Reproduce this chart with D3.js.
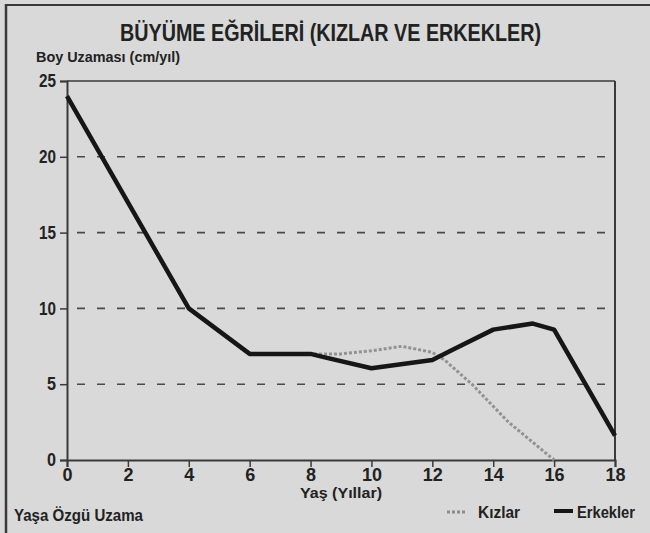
<!DOCTYPE html>
<html>
<head>
<meta charset="utf-8">
<script src="https://cdn.jsdelivr.net/npm/d3@7"></script>
<style>
  html, body { margin: 0; padding: 0; background: #d9d9d9; }
  svg { display: block; }
  text { font-family: "Liberation Sans", Arial, sans-serif; font-weight: bold; fill: #222; }
</style>
</head>
<body>
<svg id="chart" width="650" height="533"></svg>
<script>
const title = "BÜYÜME EĞRİLERİ (KIZLAR VE ERKEKLER)";
const yLabel = "Boy Uzaması (cm/yıl)";
const xLabel = "Yaş (Yıllar)";
const footLabel = "Yaşa Özgü Uzama";
const seriesNames = ["Kızlar", "Erkekler"];

const xTicks = [0, 2, 4, 6, 8, 10, 12, 14, 16, 18];
const yTicks = [0, 5, 10, 15, 20, 25];
const gridValues = [5, 10, 15, 20];

// Erkekler (boys)
const boysAge = [0, 4, 6, 8, 8.4, 10, 12, 12.7, 14, 15.3, 16, 18];
const boysVal = [24, 10, 7, 7, 6.8, 6.05, 6.6, 7.3, 8.6, 9.0, 8.6, 1.6];
// Kızlar (girls)
const girlsAge = [0, 4, 6, 8, 9, 10, 11, 12, 12.4, 13.3, 14.5, 16];
const girlsVal = [24, 10, 7, 7, 7.0, 7.2, 7.5, 7.1, 6.6, 5.0, 2.5, 0];

const svg = d3.select("#chart");
const W = 650, H = 533;

svg.append("rect").attr("width", W).attr("height", H).attr("fill", "#d9d9d9");
// outer border (top and left)
svg.append("line").attr("x1", 5).attr("x2", W).attr("y1", 5).attr("y2", 5)
  .attr("stroke", "#3a3a3a").attr("stroke-width", 2);
svg.append("line").attr("x1", 6).attr("x2", 6).attr("y1", 4).attr("y2", H)
  .attr("stroke", "#3a3a3a").attr("stroke-width", 2.5);

const x = d3.scaleLinear().domain([0, 18]).range([67, 615]);
const y = d3.scaleLinear().domain([0, 25]).range([460, 81]);

function narrowText(sel, len) {
  sel.attr("textLength", len).attr("lengthAdjust", "spacingAndGlyphs");
}

// title
svg.append("text").attr("x", 120).attr("y", 41)
  .attr("font-size", 23).text(title).call(narrowText, 421);
svg.append("text").attr("x", 36).attr("y", 62).attr("font-size", 15)
  .attr("fill", "#2a2a2a").text(yLabel).call(narrowText, 144);

// grid
svg.append("g").selectAll("line").data(gridValues).join("line")
  .attr("x1", x(0) + 10).attr("x2", x(18))
  .attr("y1", d => y(d)).attr("y2", d => y(d))
  .attr("stroke", "#4a4a4a").attr("stroke-width", 1.6)
  .attr("stroke-dasharray", "8,12");

// frame top and right
svg.append("line").attr("x1", x(0)).attr("x2", x(18)).attr("y1", y(25)).attr("y2", y(25))
  .attr("stroke", "#3a3a3a").attr("stroke-width", 1.5);
svg.append("line").attr("x1", x(18)).attr("x2", x(18)).attr("y1", y(25)).attr("y2", y(0))
  .attr("stroke", "#3a3a3a").attr("stroke-width", 2);

// axes
const yAxis = d3.axisLeft(y).tickValues(yTicks).tickSize(7).tickPadding(4).tickFormat(d3.format("d"));
const gy = svg.append("g").attr("transform", `translate(${x(0)},0)`).call(yAxis);
gy.select(".domain").attr("stroke", "#3a3a3a").attr("stroke-width", 2);
gy.selectAll(".tick line").attr("stroke", "#3a3a3a").attr("stroke-width", 1.5);
gy.selectAll(".tick text").attr("font-size", 18).attr("fill", "#2a2a2a")
  .attr("font-family", null)
  .attr("textLength", d => d >= 10 ? 17 : 9).attr("lengthAdjust", "spacingAndGlyphs");

const xAxis = d3.axisBottom(x).tickValues(xTicks).tickSize(7).tickPadding(1).tickFormat(d3.format("d"));
const gx = svg.append("g").attr("transform", `translate(0,${y(0)})`).call(xAxis);
gx.select(".domain").attr("stroke", "#3a3a3a").attr("stroke-width", 2);
gx.selectAll(".tick line").attr("stroke", "#3a3a3a").attr("stroke-width", 1.5);
gx.selectAll(".tick text").attr("font-size", 18).attr("fill", "#2a2a2a")
  .attr("font-family", null);

svg.append("text").attr("x", 341).attr("y", 498).attr("text-anchor", "middle")
  .attr("font-size", 15).text(xLabel).call(narrowText, 82);
svg.append("text").attr("x", 14).attr("y", 521).attr("font-size", 17).text(footLabel)
  .call(narrowText, 129);

// lines
const line = d3.line().x(d => x(d[0])).y(d => y(d[1]));
const girls = girlsAge.map((a, i) => [a, girlsVal[i]]);
const boys = boysAge.map((a, i) => [a, boysVal[i]]);

svg.append("path").datum(girls).attr("d", line).attr("fill", "none")
  .attr("stroke", "#929292").attr("stroke-width", 3)
  .attr("stroke-dasharray", "3,2");
svg.append("path").datum(boys).attr("d", line).attr("fill", "none")
  .attr("stroke", "#161616").attr("stroke-width", 4.5).attr("stroke-linejoin", "round");

// legend
const lg = svg.append("g");
lg.append("line").attr("x1", 447).attr("x2", 467).attr("y1", 512).attr("y2", 512)
  .attr("stroke", "#8c8c8c").attr("stroke-width", 3).attr("stroke-dasharray", "3,2");
lg.append("text").attr("x", 478).attr("y", 518).attr("font-size", 17).text(seriesNames[0])
  .call(narrowText, 42);
lg.append("line").attr("x1", 554).attr("x2", 573).attr("y1", 511).attr("y2", 511)
  .attr("stroke", "#161616").attr("stroke-width", 4);
lg.append("text").attr("x", 577).attr("y", 518).attr("font-size", 17).text(seriesNames[1])
  .call(narrowText, 58);
</script>
</body>
</html>
